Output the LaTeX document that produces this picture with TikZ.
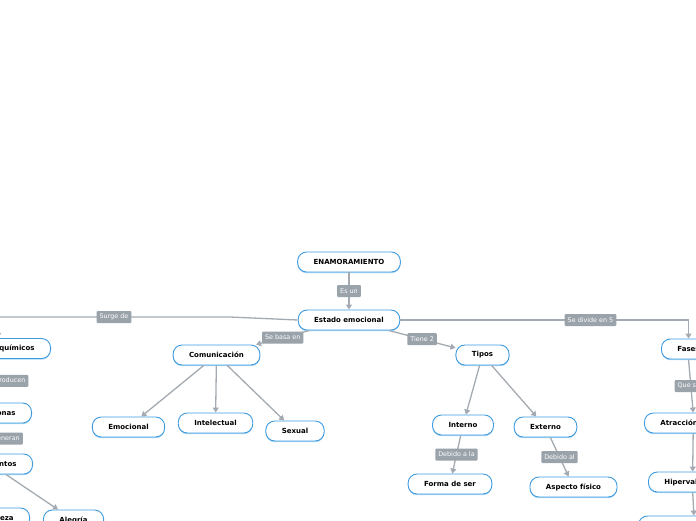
\documentclass[tikz,border=0pt]{standalone}
\usepackage{fontspec}
\setmainfont{DejaVu Sans}
\usepackage{xcolor}
\usetikzlibrary{arrows.meta,shadows}
\definecolor{topicblue}{HTML}{3D9BE0}
\definecolor{shadeblue}{HTML}{A8D4F4}
\definecolor{linkgray}{HTML}{A3AAB1}
\definecolor{taggray}{HTML}{9AA2AA}

\begin{document}
\begin{tikzpicture}[x=1pt,y=-1pt,
  topic/.style={draw=topicblue, line width=0.9pt, fill=white, rounded corners=9pt,
    minimum height=20pt, inner xsep=16pt, inner ysep=0pt,
    font=\bfseries\fontsize{7}{8}\selectfont,
    drop shadow={shadow xshift=0pt, shadow yshift=-1.2pt, fill=shadeblue, opacity=1}},
  link/.style={draw=linkgray, line width=1.3pt, -{Triangle[length=5pt,width=6pt]}},
  tag/.style={fill=taggray, text=white, rounded corners=1pt, inner xsep=3pt, inner ysep=0pt,
    minimum height=12pt, font=\fontsize{6.4}{7}\selectfont}]
\useasboundingbox (0,0) rectangle (696,520);
\clip (0,0) rectangle (696,520);

% Root
\node[topic] (enam) at (349,262) {ENAMORAMIENTO};
\node[topic] (estado) at (349,320) {Estado emocional};
\draw[link] (enam) -- node[tag] {Es un} (estado);

% Left branch
\node[topic, anchor=east] (quim) at (51,348.5) {Procesos químicos};
\node[topic, anchor=east] (hormonas) at (32,413) {Hormonas};
\node[topic, anchor=east] (sentim) at (33,464) {Sentimientos};
\node[topic, anchor=east] (tristeza) at (30,518) {Tristeza};
\node[topic, anchor=west] (alegria) at (43,520) {Alegría};
\coordinate (bendl) at (230,317);
\draw[link] (estado.west) -- (bendl) -| node[tag, pos=0.25] {Surge de} (quim.north);
\draw[link] (quim) -- node[tag, xshift=6pt] {Que producen} (hormonas);
\draw[link] (hormonas) -- node[tag, xshift=6pt] {Que generan} (sentim);
\draw[link] (sentim) -- (tristeza);
\draw[link] (sentim) -- (alegria);

% Comunicacion
\node[topic] (comun) at (216.5,355) {Comunicación};
\draw[link] (estado) -- node[tag] {Se basa en} (comun);
\node[topic] (emoc) at (128.5,427) {Emocional};
\node[topic] (intel) at (215.5,423) {Intelectual};
\node[topic] (sexual) at (295,431) {Sexual};
\draw[link] (comun) -- (emoc);
\draw[link] (comun) -- (intel);
\draw[link] (comun) -- (sexual);

% Tipos
\node[topic] (tipos) at (482.5,355) {Tipos};
\draw[link] (estado) -- node[tag] {Tiene 2} (tipos);
\node[topic] (interno) at (463,425) {Interno};
\node[topic] (externo) at (545.5,427) {Externo};
\draw[link] (tipos) -- (interno);
\draw[link] (tipos) -- (externo);
\node[topic] (forma) at (450,484) {Forma de ser};
\node[topic] (aspecto) at (573.5,487) {Aspecto físico};
\draw[link] (interno) -- node[tag] {Debido a la} (forma);
\draw[link] (externo) -- node[tag] {Debido al} (aspecto);

% Fases
\node[topic, anchor=west] (fases) at (661,349) {Fases};
\draw[link] (estado.east) -| node[tag, pos=0.33] {Se divide en 5} (fases.north);
\node[topic, anchor=west] (atrac) at (644,423) {Atracción};
\node[topic, anchor=west] (hiper) at (648,482) {Hipervaloración};
\node[topic, anchor=west] (ideal) at (638,526) {Idealización};
\draw[link] (fases.south) -- node[tag] {Que son} ([xshift=14pt]atrac.north);
\draw[link] ([xshift=14pt]atrac.south) -- ([xshift=-3pt]hiper.north);
\draw[link] ([xshift=-3pt]hiper.south) -- ([xshift=16pt]ideal.north);
\end{tikzpicture}
\end{document}
